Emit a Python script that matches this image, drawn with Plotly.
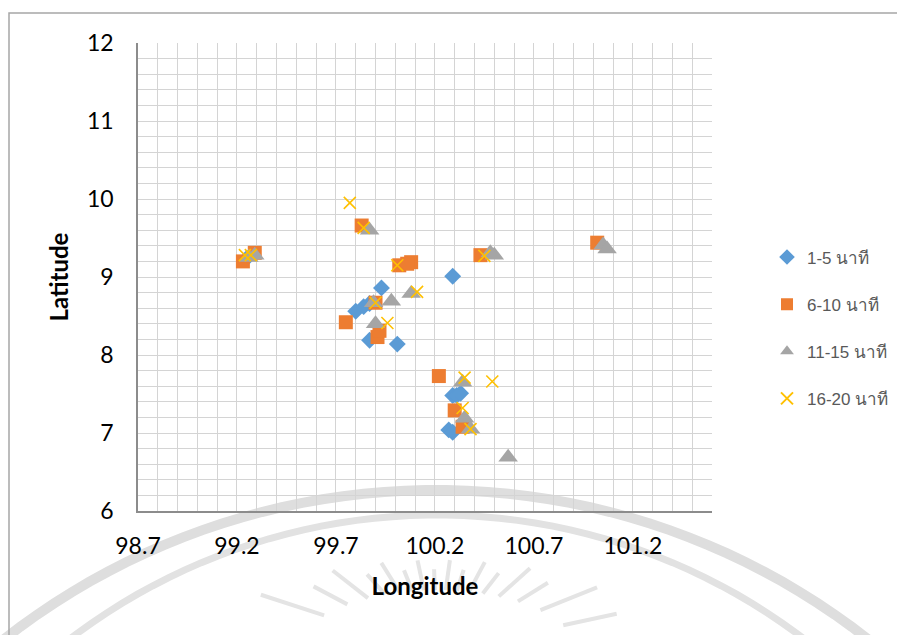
import numpy as np
import plotly.graph_objects as go

# ---- data ----
series_names = ["1-5 นาที", "6-10 นาที", "11-15 นาที", "16-20 นาที"]

lon_1_5 = [99.25, 100.29, 99.93, 99.80, 99.84, 99.87, 99.87, 100.01, 100.29, 100.31, 100.33, 100.27, 100.29]
lat_1_5 = [9.24, 9.01, 8.86, 8.56, 8.62, 8.66, 8.19, 8.14, 7.48, 7.48, 7.51, 7.04, 7.01]

lon_6_10 = [99.23, 99.29, 99.83, 100.02, 100.08, 100.06, 99.90, 99.75, 99.91, 99.92, 100.22, 100.30, 100.34, 100.43, 101.02]
lat_6_10 = [9.20, 9.31, 9.66, 9.15, 9.19, 9.17, 8.67, 8.42, 8.23, 8.31, 7.73, 7.29, 7.08, 9.28, 9.44]

lon_11_15 = [99.26, 99.29, 99.87, 99.98, 100.08, 99.89, 99.90, 100.34, 100.35, 100.38, 100.57, 100.48, 100.50, 101.05, 101.07]
lat_11_15 = [9.25, 9.28, 9.60, 8.69, 8.79, 8.67, 8.40, 7.65, 7.19, 7.05, 6.69, 9.31, 9.28, 9.41, 9.36]

lon_16_20 = [99.24, 99.27, 99.77, 99.84, 100.01, 100.11, 99.90, 99.96, 100.35, 100.49, 100.34, 100.38, 100.45]
lat_16_20 = [9.28, 9.28, 9.95, 9.63, 9.15, 8.81, 8.67, 8.41, 7.71, 7.66, 7.32, 7.05, 9.27]

x_ticks = [98.7, 99.2, 99.7, 100.2, 100.7, 101.2]
y_ticks = [6, 7, 8, 9, 10, 11, 12]

colors = ["#5B9BD5", "#ED7D31", "#A5A5A5", "#FFC000"]
symbols = ["diamond", "square", "triangle-up", "x-thin"]
sizes = [13, 14, 17, 12]

fig = go.Figure()
data = [(lon_1_5, lat_1_5), (lon_6_10, lat_6_10), (lon_11_15, lat_11_15), (lon_16_20, lat_16_20)]
for i, (xs, ys) in enumerate(data):
    if symbols[i] == "x-thin":
        marker = dict(symbol="x-thin", size=sizes[i], line=dict(color=colors[i], width=1.6), color=colors[i])
    else:
        marker = dict(symbol=symbols[i], size=sizes[i], color=colors[i], line=dict(width=0))
    fig.add_trace(go.Scatter(x=xs, y=ys, mode="markers", name=series_names[i],
                             marker=marker, legendgroup=f"g{i}"))

grid_c = "#D4D4D4"
axis_font = dict(family="Lato, Carlito, sans-serif", size=23, color="#000000")
title_font = dict(family="Lato, sans-serif", size=24, color="#000000")

L, R, T, B = 138, 185, 43, 124
W, H = 897, 635
pw, ph = W - L - R, H - T - B


def px2paper(px, py):
    return (px - L) / pw, (H - B - py) / ph


fig.update_layout(
    width=W, height=H,
    margin=dict(l=L, r=R, t=T, b=B, autoexpand=False),
    paper_bgcolor="white", plot_bgcolor="rgba(0,0,0,0)",
    showlegend=True,
    legend=dict(xref="container", yref="container", x=767 / W, y=1 - 328 / H,
                xanchor="left", yanchor="middle",
                font=dict(family="Liberation Sans, Arial, sans-serif", size=17, color="#595959"),
                tracegroupgap=22, itemsizing="constant", itemwidth=30, bgcolor="rgba(0,0,0,0)"),
    xaxis=dict(range=[98.7, 101.6], tickvals=x_ticks, ticktext=[str(v) for v in x_ticks],
               showgrid=True, gridcolor=grid_c, gridwidth=1,
               minor=dict(tick0=98.7, dtick=0.1, showgrid=True, gridcolor=grid_c, gridwidth=1),
               showline=True, linecolor="#8C8C8C", linewidth=1.5,
               ticks="outside", ticklen=14, tickcolor="rgba(0,0,0,0)",
               tickfont=axis_font, zeroline=False,
               title=dict(text="<b>Longitude</b>", font=title_font, standoff=20)),
    yaxis=dict(range=[6, 12], tickvals=y_ticks,
               showgrid=True, gridcolor=grid_c, gridwidth=1,
               minor=dict(tick0=6, dtick=0.2, showgrid=True, gridcolor=grid_c, gridwidth=1),
               showline=True, linecolor="#8C8C8C", linewidth=1.5,
               ticks="outside", ticklen=18, tickcolor="rgba(0,0,0,0)",
               tickfont=axis_font, zeroline=False,
               title=dict(text="<b>Latitude</b>", font=title_font, standoff=12)),
)


# faint watermark (arcs + rays of the source page's background seal)
def arc_path(cx, cy, r, a0, a1, n=60):
    pts = []
    for a in np.linspace(a0, a1, n):
        px = cx + r * np.cos(np.radians(a))
        py = cy - r * np.sin(np.radians(a))
        pts.append(px2paper(px, py))
    return "M " + " L ".join(f"{x:.4f},{y:.4f}" for x, y in pts)


fig.add_shape(type="path", xref="paper", yref="paper", layer="below",
              path=arc_path(436, 1190, 700, 40, 140), line=dict(color="#DEDEDE", width=10))
fig.add_shape(type="path", xref="paper", yref="paper", layer="below",
              path=arc_path(437, 1121, 606, 40, 140), line=dict(color="#E2E2E2", width=7))


def ell_r(theta, a, b):
    c, s = np.cos(theta), np.sin(theta)
    return a * b / np.sqrt((b * c) ** 2 + (a * s) ** 2)


for k, ang in enumerate(np.arange(12, 172, 10)):
    th = np.radians(ang)
    r0 = ell_r(th, 140, 62)
    r1 = ell_r(th, 225, 92) * (1.0 if k % 2 else 0.9)
    cx, cy = 437, 652
    x0, y0 = cx + r0 * np.cos(th), cy - r0 * np.sin(th)
    x1, y1 = cx + r1 * np.cos(th), cy - r1 * np.sin(th)
    (a, b), (c, d) = px2paper(x0, y0), px2paper(x1, y1)
    fig.add_shape(type="line", xref="paper", yref="paper", layer="below",
                  x0=a, y0=b, x1=c, y1=d, line=dict(color="#E4E4E4", width=4))

# outer chart border
bx0, by0 = px2paper(9, 13)
bx1, by1 = px2paper(902, 660)
fig.add_shape(type="rect", xref="paper", yref="paper", layer="above",
              x0=bx0, x1=bx1, y0=by1, y1=by0,
              line=dict(color="#A6A6A6", width=1.5), fillcolor="rgba(0,0,0,0)")

fig.write_html("out.html")
